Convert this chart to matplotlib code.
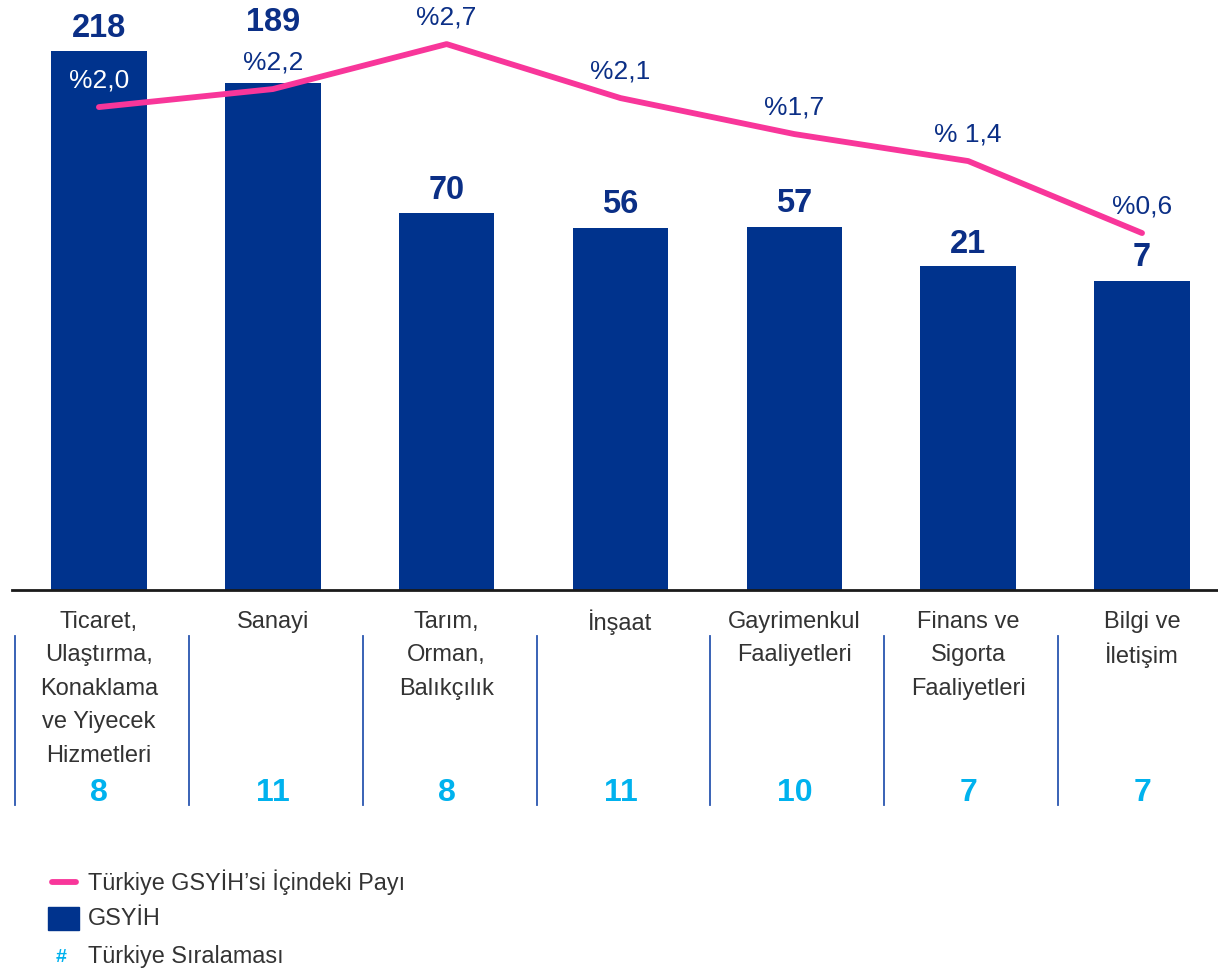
import matplotlib
matplotlib.use("Agg")
import matplotlib.pyplot as plt
from matplotlib.lines import Line2D
from matplotlib.patches import Rectangle
from matplotlib.transforms import blended_transform_factory

# ---------------- data ----------------
categories = [
    "Ticaret,\nUlaştırma,\nKonaklama\nve Yiyecek\nHizmetleri",
    "Sanayi",
    "Tarım,\nOrman,\nBalıkçılık",
    "İnşaat",
    "Gayrimenkul\nFaaliyetleri",
    "Finans ve\nSigorta\nFaaliyetleri",
    "Bilgi ve\nİletişim",
]
gsyih = [218, 189, 70, 56, 57, 21, 7]
share = [2.0, 2.2, 2.7, 2.1, 1.7, 1.4, 0.6]
share_labels = ["%2,0", "%2,2", "%2,7", "%2,1", "%1,7", "% 1,4", "%0,6"]
rank = [8, 11, 8, 11, 10, 7, 7]

legend_labels = ["Türkiye GSYİH’si İçindeki Payı", "GSYİH", "Türkiye Sıralaması"]

# ---------------- style ----------------
BAR = "#00338D"
PINK = "#F8369A"
CYAN = "#00B2EE"
DARK = "#0B2F86"
GREY = "#333333"
SEP = "#2A56B0"
FONT = "Liberation Sans"
plt.rcParams["font.family"] = [FONT, "DejaVu Sans"]

W, H = 1218, 971
fig = plt.figure(figsize=(W / 100, H / 100), dpi=100)

def fx(px):
    return px / W

def fy(py):
    return 1 - py / H

ax_left, ax_right, ax_top, ax_bot = 12, 1218, 0, 590
ax = fig.add_axes([fx(ax_left), fy(ax_bot), fx(ax_right - ax_left), (ax_bot - ax_top) / H])
ax2 = ax.twinx()

x = list(range(len(categories)))
y_bottom, y_top = -276, 265
ax.set_ylim(y_bottom, y_top)
ax.set_xlim(-0.5, 6.437)
ax.bar(x, [v - y_bottom for v in gsyih], bottom=y_bottom, width=0.55, color=BAR, zorder=2)

value_offsets = [23, 60, 22, 23, 23, 22, 24]  # px above bar top
for xi, v, off in zip(x, gsyih, value_offsets):
    ax.annotate(str(v), (xi, v), xytext=(0, off * 0.72), textcoords="offset points",
                ha="center", va="center", fontsize=23.5, fontweight="bold", color=DARK, zorder=5)

ax2.set_ylim(-3.367, 3.19)
ax2.plot(x, share, color=PINK, lw=4.2, solid_capstyle="round", solid_joinstyle="round", zorder=4)
for i, (xi, v, lab) in enumerate(zip(x, share, share_labels)):
    ax2.annotate(lab, (xi, v), xytext=(0, 27 * 0.72), textcoords="offset points",
                 ha="center", va="center", fontsize=19,
                 color="white" if i == 0 else DARK, zorder=5)

for a in (ax, ax2):
    for s in ("top", "right", "left", "bottom"):
        a.spines[s].set_visible(False)
    a.set_xticks([])
    a.set_yticks([])
ax.axhline(y_bottom, color="#1a1a1a", lw=2, zorder=3, clip_on=False)
ax2.set_zorder(ax.get_zorder() + 1)
ax2.patch.set_visible(False)

# ---------------- labels below axis ----------------
tr = blended_transform_factory(ax.transData, fig.transFigure)
for xi, cat, r in zip(x, categories, rank):
    for j, line in enumerate(cat.split("\n")):
        fig.text(xi, fy(622 + 33.4 * j), line, transform=tr, ha="center", va="center",
                 fontsize=17, color=GREY)
    fig.text(xi, fy(793), str(r), transform=tr, ha="center", va="center",
             fontsize=23, fontweight="bold", color=CYAN)
    fig.add_artist(Line2D([xi - 0.483, xi - 0.483], [fy(636), fy(805)], transform=tr,
                          color=SEP, lw=1.3))

# ---------------- legend ----------------
fig.add_artist(Line2D([fx(52), fx(76)], [fy(882), fy(882)], color=PINK, lw=4.2,
                      solid_capstyle="round"))
fig.text(fx(88), fy(882), legend_labels[0], ha="left", va="center", fontsize=16.8, color=GREY)
fig.add_artist(Rectangle((fx(48), fy(930)), fx(31), (930 - 907) / H, color=BAR,
                         transform=fig.transFigure))
fig.text(fx(88), fy(918), legend_labels[1], ha="left", va="center", fontsize=16.8, color=GREY)
fig.text(fx(61), fy(957), "#", ha="center", va="center", fontsize=14, fontweight="bold", color=CYAN)
fig.text(fx(88), fy(956), legend_labels[2], ha="left", va="center", fontsize=16.8, color=GREY)

fig.savefig("out.png", dpi=100)
